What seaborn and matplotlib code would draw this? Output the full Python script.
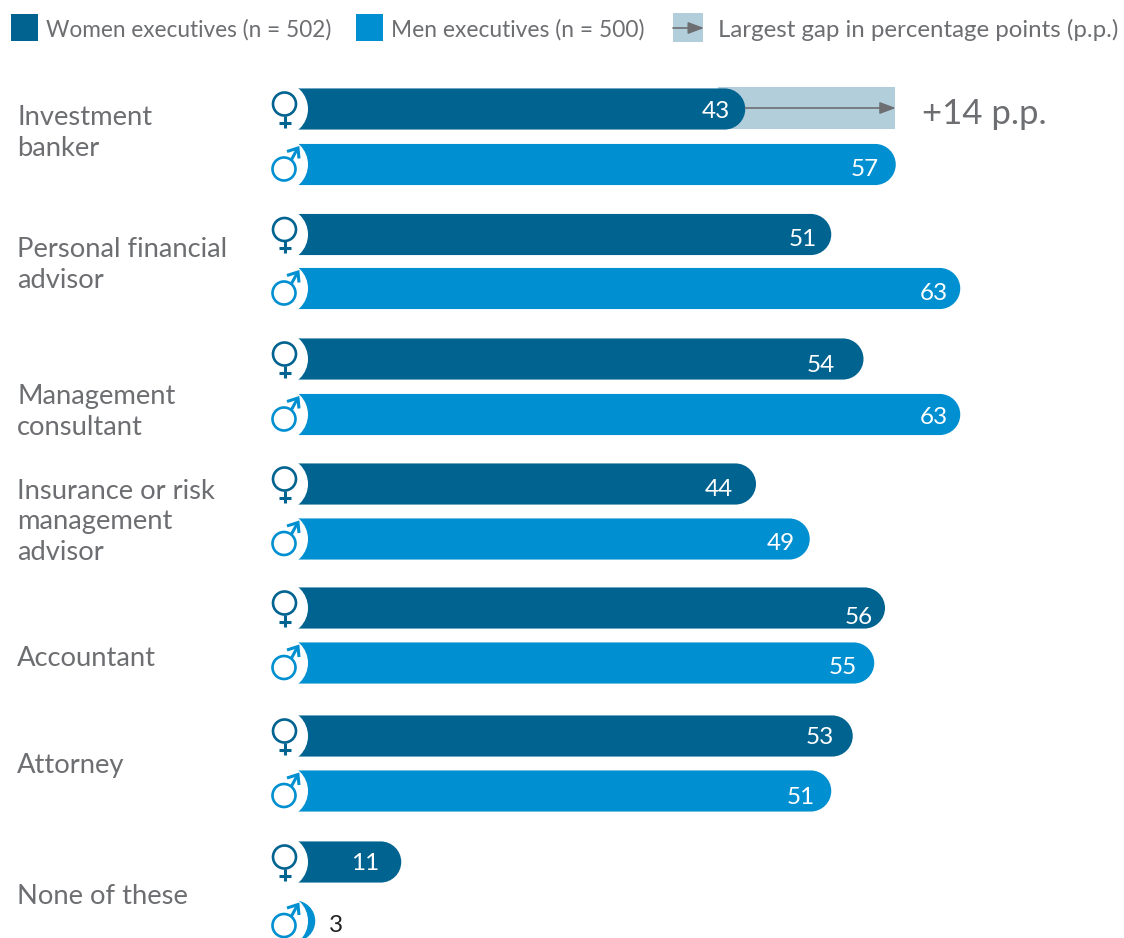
import matplotlib
matplotlib.use("Agg")
import matplotlib.pyplot as plt
import pandas as pd
import seaborn as sns
from matplotlib.patches import Circle, PathPatch, Rectangle
from matplotlib.path import Path

# Survey results (percent of respondents)
categories = ["Investment\nbanker", "Personal financial\nadvisor", "Management\nconsultant",
              "Insurance or risk\nmanagement\nadvisor", "Accountant", "Attorney", "None of these"]
women_values = [43, 51, 54, 44, 56, 53, 11]
men_values = [57, 63, 63, 49, 55, 51, 3]
women_label = "Women executives (n = 502)"
men_label = "Men executives (n = 500)"
gap_label = "Largest gap in percentage points (p.p.)"

# Layout, in figure pixels
W, H = 1124, 938
ZERO_PX, PX_PER_POINT = 283, 10.75
women_rows = [109, 234.5, 359, 484, 608, 736, 862]
men_rows = [164.5, 288.5, 414.5, 539, 663, 791, 921]
women_label_pos = [(730, 109), (817, 237), (835, 364), (733, 487), (873, 615), (834, 735), (379, 862)]
men_label_pos = [(879, 167), (948, 292), (948, 416), (795, 541), (857, 665), (815, 795), (329, 923)]
category_y = [133, 265, 412, 522, 658, 765, 897]

DARK, MID, PALE, GREY = "#006390", "#008fd0", "#b3cedb", "#6d6e71"
FONT = "Lato"

sns.set_theme(style="white")
plt.rcParams["font.family"] = [FONT, "DejaVu Sans"]

fig = plt.figure(figsize=(W / 100, H / 100), dpi=100, facecolor="white")
ax = fig.add_axes([0, 0, 1, 1])

frame = pd.DataFrame({
    "row": women_rows + men_rows,
    "value": women_values + men_values,
    "series": ["Women"] * len(women_values) + ["Men"] * len(men_values),
})
sns.barplot(data=frame, x="value", y="row", hue="series", orient="y", native_scale=True,
            dodge=False, palette={"Women": DARK, "Men": MID}, width=41.5 / 54.5,
            saturation=1, errorbar=None, legend=False, ax=ax)
ax.set_xlim(-ZERO_PX / PX_PER_POINT, (W - ZERO_PX) / PX_PER_POINT)
ax.set_ylim(H, 0)
ax.axis("off")


def pill_path(x, y, w, h, rx, ry):
    """Bar outline with a rounded right-hand end."""
    k = 0.5523
    x1 = x + w
    y1 = y + h
    verts = [(x, y), (x1 - rx, y),
             (x1 - rx + k * rx, y), (x1, y + ry - k * ry), (x1, y + ry),
             (x1, y1 - ry),
             (x1, y1 - ry + k * ry), (x1 - rx + k * rx, y1), (x1 - rx, y1),
             (x, y1), (x, y)]
    codes = [Path.MOVETO, Path.LINETO, Path.CURVE4, Path.CURVE4, Path.CURVE4, Path.LINETO,
             Path.CURVE4, Path.CURVE4, Path.CURVE4, Path.LINETO, Path.CLOSEPOLY]
    return Path(verts, codes)


# Swap the square bars for rounded ones of the same geometry
for bar in list(ax.patches):
    x, y, w, h = bar.get_x(), bar.get_y(), bar.get_width(), bar.get_height()
    ry = abs(h) / 2
    rx = ry / PX_PER_POINT
    ax.add_patch(PathPatch(pill_path(x, y, w, h, rx, ry), facecolor=bar.get_facecolor(),
                           edgecolor="none", zorder=3))
    bar.remove()

# Shaded band marking the largest gap
gap_left, gap_right = women_values[0] - 2.5, men_values[0]
ax.add_patch(Rectangle((gap_left, 87), gap_right - gap_left - 0.1, 42, facecolor=PALE,
                       edgecolor="none", zorder=1))
ax.annotate("", xy=(gap_right, 108), xytext=(women_values[0], 108), zorder=4,
            arrowprops=dict(arrowstyle="-|>,head_length=0.8,head_width=0.3", color=GREY,
                            lw=1.2, shrinkA=0, shrinkB=0))

# Overlay in pixel coordinates for icons, labels and the key
ov = fig.add_axes([0, 0, 1, 1], facecolor="none", zorder=5)
ov.set_xlim(0, W)
ov.set_ylim(H, 0)
ov.axis("off")


def venus(cy):
    ov.add_patch(Circle((281, cy), 27, facecolor="white", edgecolor="none"))
    ov.add_patch(Circle((284.5, cy - 5), 11.5, facecolor="none", edgecolor=DARK, lw=1.9))
    ov.plot([285, 285], [cy + 7, cy + 19], color=DARK, lw=2.2, solid_capstyle="butt")
    ov.plot([279, 291], [cy + 14, cy + 14], color=DARK, lw=2.2, solid_capstyle="butt")


def mars(cy):
    ov.add_patch(Circle((281, cy), 27, facecolor="white", edgecolor="none"))
    ov.add_patch(Circle((284, cy + 4.5), 11.5, facecolor="none", edgecolor=MID, lw=1.9))
    ov.plot([291, 297], [cy - 4, cy - 15], color=MID, lw=2.2, solid_capstyle="butt")
    ov.plot([287, 298, 299], [cy - 13, cy - 16.5, cy - 6], color=MID, lw=2.2,
            solid_joinstyle="miter", solid_capstyle="butt")


for cy in women_rows:
    venus(cy)
for cy in men_rows:
    mars(cy)

# Value labels inside the bars
for value, (px, py) in zip(women_values, women_label_pos):
    ov.text(px, py, str(value), color="white", fontsize=17.5, ha="right", va="center_baseline")
for value, (px, py) in zip(men_values[:-1], men_label_pos[:-1]):
    ov.text(px, py, str(value), color="white", fontsize=17.5, ha="right", va="center_baseline")
px, py = men_label_pos[-1]
ov.text(px, py, str(men_values[-1]), color="#222222", fontsize=17.5, ha="left", va="center_baseline")

# Category labels
for name, py in zip(categories, category_y):
    ov.text(17, py, name, color=GREY, fontsize=19.7, ha="left", va="center", linespacing=1.28)

ov.text(922, 111, f"+{men_values[0] - women_values[0]} p.p.", color=GREY, fontsize=25,
        ha="left", va="center_baseline")

# Key along the top edge
ov.add_patch(Rectangle((11, 14), 27, 27, facecolor=DARK, edgecolor="none"))
ov.text(46, 28, women_label, color=GREY, fontsize=16.3, ha="left", va="center_baseline")
ov.add_patch(Rectangle((356, 14), 27, 27, facecolor=MID, edgecolor="none"))
ov.text(391, 28, men_label, color=GREY, fontsize=16.4, ha="left", va="center_baseline")
ov.add_patch(Rectangle((673, 13), 30, 29, facecolor=PALE, edgecolor="none"))
ov.annotate("", xy=(704, 28), xytext=(673, 28),
            arrowprops=dict(arrowstyle="-|>,head_length=0.8,head_width=0.3", color=GREY,
                            lw=1.2, shrinkA=0, shrinkB=0))
ov.text(718, 28, gap_label, color=GREY, fontsize=17.3, ha="left", va="center_baseline")

fig.savefig("out.png", dpi=100)
